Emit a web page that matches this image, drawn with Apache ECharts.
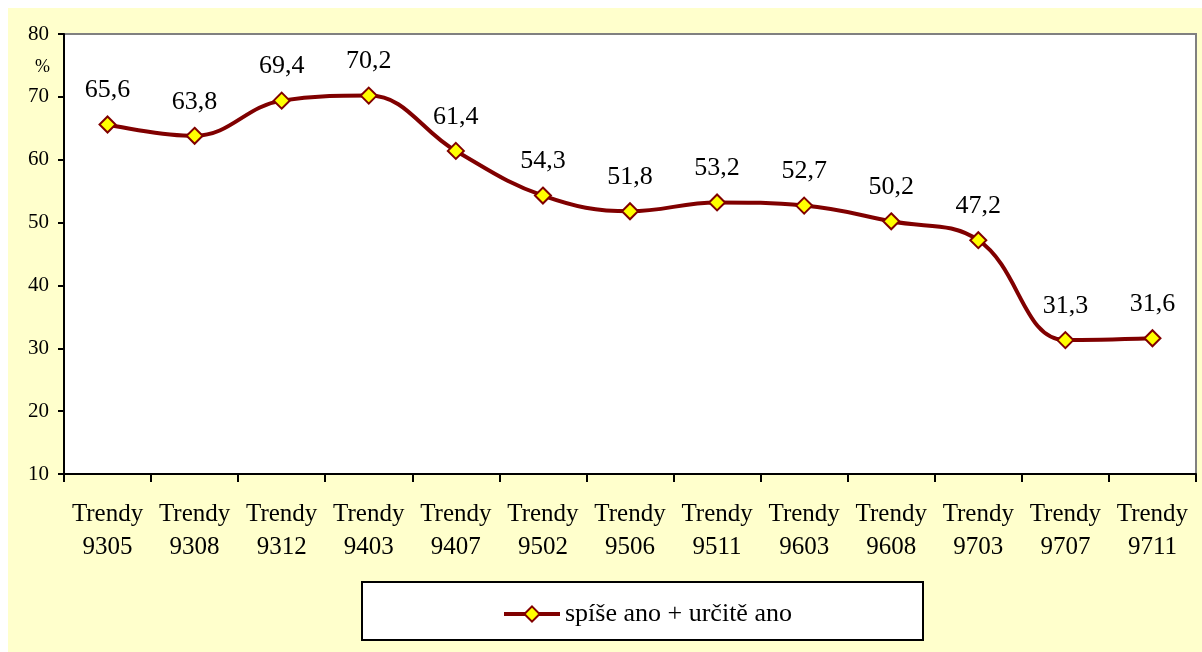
<!DOCTYPE html>
<html>
<head>
<meta charset="utf-8">
<script src="https://cdn.jsdelivr.net/npm/echarts@6/dist/echarts.min.js"></script>
<style>
  html, body { margin: 0; padding: 0; background: #fff; }
  #chart { width: 1202px; height: 652px; }
</style>
</head>
<body>
<div id="chart"></div>
<script>
const categories = ['9305', '9308', '9312', '9403', '9407', '9502', '9506', '9511', '9603', '9608', '9703', '9707', '9711']
const values = [65.6, 63.8, 69.4, 70.2, 61.4, 54.3, 51.8, 53.2, 52.7, 50.2, 47.2, 31.3, 31.6]
const seriesName = 'spíše ano + určitě ano'

const FONT = '"Liberation Serif", "Times New Roman", serif'

const chart = echarts.init(document.getElementById('chart'))
const option = {
  animation: false,
  backgroundColor: 'transparent',
  textStyle: { fontFamily: FONT },
  graphic: [
    // yellow chart area
    { type: 'rect', z: -10, shape: { x: 8, y: 8, width: 1194, height: 644 }, style: { fill: '#FFFFCC' } },
    // legend box
    { type: 'rect', z: 0, shape: { x: 362, y: 582, width: 561, height: 58 }, style: { fill: '#fff', stroke: '#000', lineWidth: 2 } },
    { type: 'text', left: 35, top: 58, style: { text: '%', font: '18px ' + FONT, fill: '#000' } },
  ],
  grid: {
    left: 64, top: 34, width: 1132, height: 440,
    show: true, backgroundColor: '#fff', borderColor: '#808080', borderWidth: 2,
  },
  legend: {
    left: 497, top: 596, itemWidth: 56, itemHeight: 19, itemGap: 0,
    lineStyle: { width: 4 },
    textStyle: { fontFamily: FONT, fontSize: 26, color: '#000' },
    data: [seriesName],
  },
  xAxis: {
    type: 'category',
    boundaryGap: true,
    data: categories.map((c) => 'Trendy\n' + c),
    axisLine: { lineStyle: { color: '#000', width: 2 } },
    axisTick: { show: true, length: 8, interval: 0, lineStyle: { color: '#000', width: 2 } },
    axisLabel: { interval: 0, margin: 24, fontFamily: FONT, fontSize: 25, lineHeight: 33, color: '#000' },
    splitLine: { show: false },
  },
  yAxis: {
    type: 'value',
    min: 10, max: 80, interval: 10,
    axisLine: { show: true, lineStyle: { color: '#000', width: 2 } },
    axisTick: { show: true, length: 6, lineStyle: { color: '#000', width: 2 } },
    axisLabel: { margin: 15, fontFamily: FONT, fontSize: 21, color: '#000' },
    splitLine: { show: false },
  },
  series: [{
    name: seriesName,
    type: 'line',
    smooth: 0.4,
    data: values,
    symbol: 'diamond',
    symbolSize: 16,
    lineStyle: { color: '#800000', width: 4 },
    itemStyle: { color: '#FFFF00', borderColor: '#800000', borderWidth: 2 },
    label: {
      show: true, position: 'top', distance: 12,
      fontFamily: FONT, fontSize: 26, color: '#000',
      formatter: (p) => String(p.value).replace('.', ','),
    },
  }],
}
chart.setOption(option)
</script>
</body>
</html>
